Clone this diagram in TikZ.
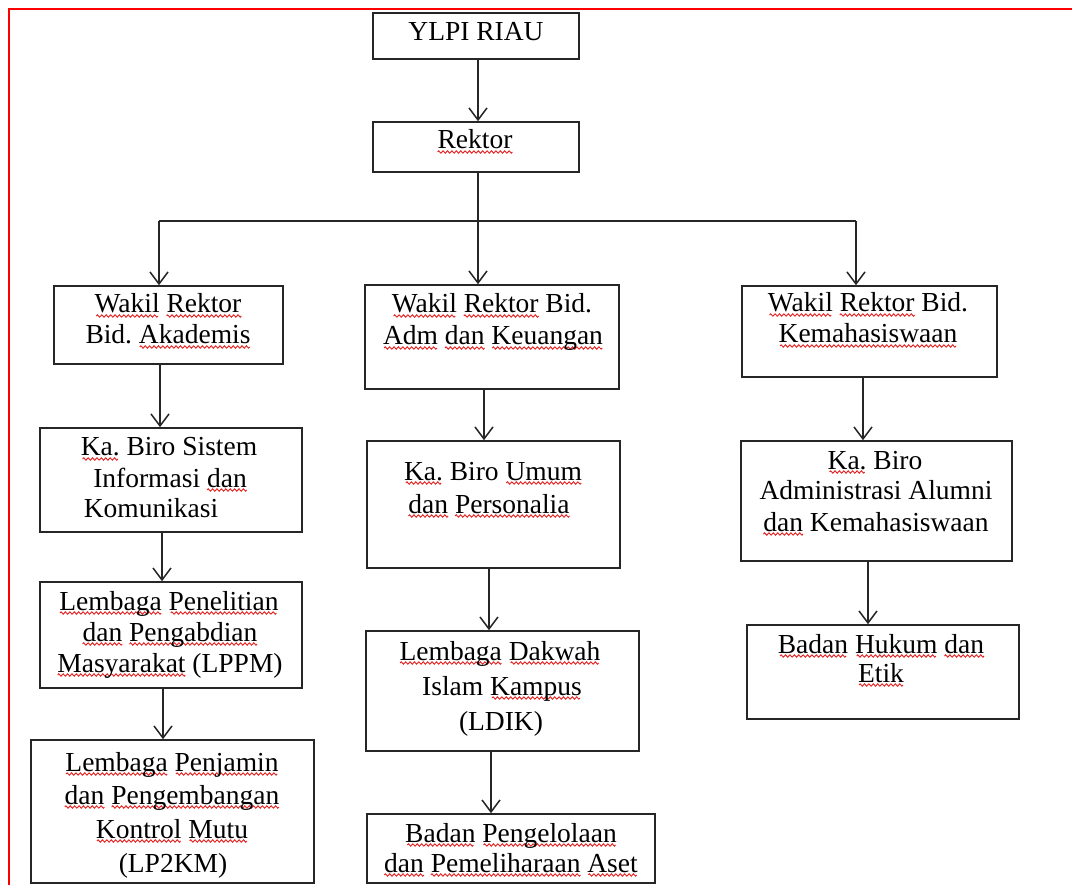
\documentclass[tikz,border=0pt]{standalone}
\usepackage{fontspec}
\setmainfont{Liberation Serif}
\usetikzlibrary{arrows.meta}
\definecolor{wavered}{RGB}{230,30,30}
\newsavebox\wvbox
\newsavebox\wvword
\newcommand\wv[1]{\sbox\wvword{#1}\rlap{\raisebox{-4.5pt}{\hbox to\wd\wvword{\cleaders\copy\wvbox\hfill}}}\usebox\wvword}
\frenchspacing
\begin{document}
\sbox\wvbox{\begin{pgfpicture}%
\pgfpathrectangle{\pgfpoint{0pt}{-1.5pt}}{\pgfpoint{4.4pt}{3pt}}\pgfusepath{use as bounding box}%
\pgfsetlinewidth{0.9pt}\pgfsetstrokecolor{wavered}%
\pgfpathmoveto{\pgfpoint{0pt}{0pt}}%
\pgfpathsine{\pgfpoint{1.1pt}{1.2pt}}\pgfpathcosine{\pgfpoint{1.1pt}{-1.2pt}}%
\pgfpathsine{\pgfpoint{1.1pt}{-1.2pt}}\pgfpathcosine{\pgfpoint{1.1pt}{1.2pt}}%
\pgfusepath{stroke}%
\end{pgfpicture}}%
\begin{tikzpicture}[x=1pt,y=-1pt,
  box/.style={draw=black!85, line width=1.6pt, inner sep=0pt},
  tl/.style={anchor=base, inner sep=0pt, font=\fontsize{27.5}{31}\selectfont\frenchspacing},
  arr/.style={draw=black!85, line width=1.5pt, -{Straight Barb[length=12pt,width=18pt]}},
  con/.style={draw=black!85, line width=1.5pt}]
\useasboundingbox (0,0) rectangle (1072,885);
\fill[white] (0,0) rectangle (1072,885);
\draw[red, line width=2pt] (9,885) -- (9,9) -- (1072,9);

% boxes
\node[box, minimum width=206pt, minimum height=46pt] (ylpi) at (476,36) {};
\node[box, minimum width=206pt, minimum height=50pt] (rektor) at (476,147) {};
\node[box, minimum width=229pt, minimum height=78pt] (w1) at (168.5,325) {};
\node[box, minimum width=254pt, minimum height=104pt] (w2) at (492,337) {};
\node[box, minimum width=255pt, minimum height=91pt] (w3) at (869.5,331.5) {};
\node[box, minimum width=262pt, minimum height=104pt] (k1) at (171,480) {};
\node[box, minimum width=262pt, minimum height=106pt] (l1) at (171,635) {};
\node[box, minimum width=283pt, minimum height=143pt] (l2) at (172.5,811.5) {};
\node[box, minimum width=253pt, minimum height=127pt] (k2) at (493.5,504.5) {};
\node[box, minimum width=273pt, minimum height=120pt] (d2) at (502.5,691) {};
\node[box, minimum width=288pt, minimum height=69pt] (b2) at (511,848.5) {};
\node[box, minimum width=271pt, minimum height=120pt] (k3) at (876.5,501) {};
\node[box, minimum width=272pt, minimum height=94pt] (h3) at (883,672) {};

% texts
\node[tl] (ylpi-t1) at (476,41) {YLPI RIAU};
\node[tl] (rektor-t1) at (475,149) {\wv{Rektor}};
\node[tl] (w1-t1) at (168,313) {\wv{Wakil} \wv{Rektor}};
\node[tl] (w1-t2) at (168,344) {Bid. \wv{Akademis}};
\node[tl] (w2-t1) at (492,313) {\wv{Wakil} \wv{Rektor} Bid.};
\node[tl] (w2-t2) at (493,345) {\wv{Adm} \wv{dan} \wv{Keuangan}};
\node[tl] (w3-t1) at (868,312) {\wv{Wakil} \wv{Rektor} Bid.};
\node[tl] (w3-t2) at (868,343) {\wv{Kemahasiswaan}};
\node[tl] (k1-t1) at (169,456) {\wv{Ka.} Biro Sistem};
\node[tl] (k1-t2) at (170,487) {Informasi \wv{dan}};
\node[tl] (k1-t3) at (151,518) {Komunikasi};
\node[tl] (l1-t1) at (169,610) {\wv{Lembaga} \wv{Penelitian}};
\node[tl] (l1-t2) at (170,641) {\wv{dan} \wv{Pengabdian}};
\node[tl] (l1-t3) at (170,672) {\wv{Masyarakat} (LPPM)};
\node[tl] (l2-t1) at (172,771) {\wv{Lembaga} \wv{Penjamin}};
\node[tl] (l2-t2) at (172,804) {\wv{dan} \wv{Pengembangan}};
\node[tl] (l2-t3) at (172,838) {\wv{Kontrol} \wv{Mutu}};
\node[tl] (l2-t4) at (173,872) {(LP2KM)};
\node[tl] (k2-t1) at (493,480) {\wv{Ka.} Biro \wv{Umum}};
\node[tl] (k2-t2) at (489,513) {\wv{dan} \wv{Personalia}};
\node[tl] (d2-t1) at (500,660) {\wv{Lembaga} \wv{Dakwah}};
\node[tl] (d2-t2) at (502,695) {Islam \wv{Kampus}};
\node[tl] (d2-t3) at (501,730) {(LDIK)};
\node[tl] (b2-t1) at (511,842) {\wv{Badan} \wv{Pengelolaan}};
\node[tl] (b2-t2) at (511,872) {\wv{dan} \wv{Pemeliharaan} \wv{Aset}};
\node[tl] (k3-t1) at (875,469) {\wv{Ka.} Biro};
\node[tl] (k3-t2) at (876,500) {Administrasi Alumni};
\node[tl] (k3-t3) at (876,531) {\wv{dan} Kemahasiswaan};
\node[tl] (h3-t1) at (881,653) {\wv{Badan} \wv{Hukum} \wv{dan}};
\node[tl] (h3-t2) at (881,682) {\wv{Etik}};

% connectors
\coordinate (j1) at (159,221);
\coordinate (j3) at (856,221);
\draw[arr] ([xshift=2pt]ylpi.south) -- ([xshift=2pt]rektor.north);
\draw[arr] ([xshift=2pt]rektor.south) -- ([xshift=2pt]rektor.south |- w2.north);
\draw[con] (j1) -- (j3);
\draw[arr] (j1) -- (j1 |- w1.north);
\draw[arr] (j3) -- (j3 |- w3.north);
\draw[arr] ([xshift=-8.5pt]w1.south) -- ([xshift=-8.5pt]w1.south |- k1.north);
\draw[arr] ([xshift=-9pt]k1.south) -- ([xshift=-9pt]k1.south |- l1.north);
\draw[arr] ([xshift=-8pt]l1.south) -- ([xshift=-8pt]l1.south |- l2.north);
\draw[arr] ([xshift=-8pt]w2.south) -- ([xshift=-8pt]w2.south |- k2.north);
\draw[arr] ([xshift=-4.5pt]k2.south) -- ([xshift=-4.5pt]k2.south |- d2.north);
\draw[arr] ([xshift=-11.5pt]d2.south) -- ([xshift=-11.5pt]d2.south |- b2.north);
\draw[arr] ([xshift=-6.5pt]w3.south) -- ([xshift=-6.5pt]w3.south |- k3.north);
\draw[arr] ([xshift=-8.5pt]k3.south) -- ([xshift=-8.5pt]k3.south |- h3.north);
\end{tikzpicture}
\end{document}
